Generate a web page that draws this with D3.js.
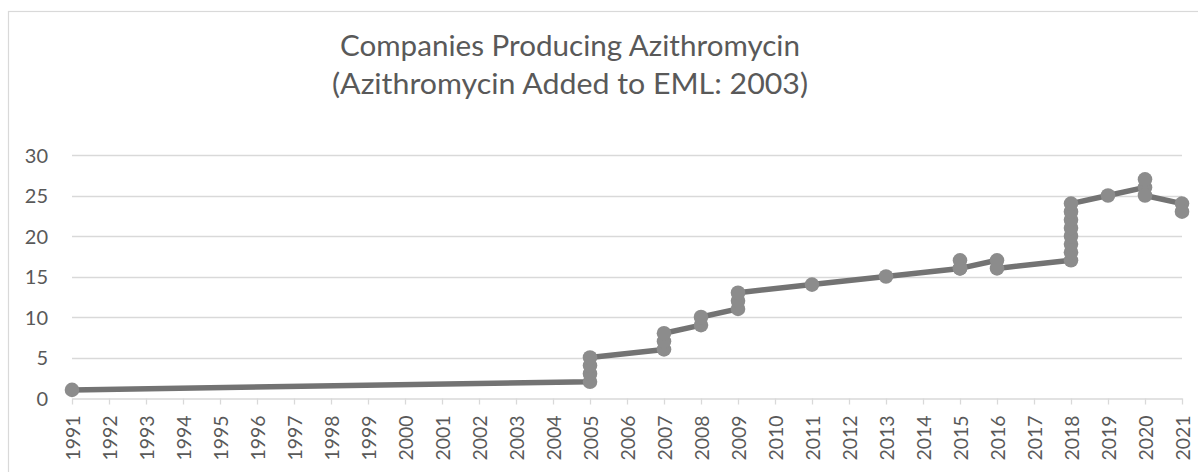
<!DOCTYPE html>
<html>
<head>
<meta charset="utf-8">
<script src="https://cdn.jsdelivr.net/npm/d3@7"></script>
<style>
  html, body { margin: 0; padding: 0; background: #fff; }
  svg { display: block; }
  text { font-family: Lato, "Open Sans", sans-serif; fill: #595959; }
</style>
</head>
<body>
<svg id="chart" width="1198" height="472"></svg>
<script>
// ---- data ----
const titleLines = ["Companies Producing Azithromycin", "(Azithromycin Added to EML: 2003)"];
const years = [1991,1992,1993,1994,1995,1996,1997,1998,1999,2000,2001,2002,2003,2004,2005,2006,2007,2008,2009,2010,2011,2012,2013,2014,2015,2016,2017,2018,2019,2020,2021];
const yTicks = [0, 5, 10, 15, 20, 25, 30];
const pointYears  = [1991, 2005,2005,2005,2005, 2007,2007,2007, 2008,2008, 2009,2009,2009, 2011, 2013, 2015,2015,2015, 2016,2016, 2018,2018,2018,2018,2018,2018,2018,2018, 2019, 2020,2020,2020, 2021,2021];
const pointCounts = [1,    2,3,4,5,             6,7,8,          9,10,      11,12,13,          14,   15,   16,17,16,        17,16,     17,18,19,20,21,22,23,24,                   25,   26,27,25,        24,23];

// ---- layout ----
const svg = d3.select("#chart");
const W = 1198, H = 472;
const plot = { left: 72, right: 1182, top: 155, bottom: 398 };

// outer border
svg.append("rect")
  .attr("x", 8.5).attr("y", 11.5)
  .attr("width", W + 10).attr("height", H + 10)
  .attr("fill", "none").attr("stroke", "#d9d9d9").attr("stroke-width", 1.2);

const x = d3.scaleLinear().domain([years[0], years[years.length - 1]]).range([plot.left, plot.right]);
const y = d3.scaleLinear().domain([0, 30]).range([plot.bottom, plot.top]);

// title
const titleX = 570, titleBase = [56, 94], titleWidths = [460, 476];
titleLines.forEach((t, i) =>
  svg.append("text").attr("x", titleX).attr("y", titleBase[i])
    .attr("text-anchor", "middle").style("font-size", "29px")
    .attr("textLength", titleWidths[i]).attr("lengthAdjust", "spacingAndGlyphs")
    .text(t));

// gridlines (skip 0 — axis drawn separately)
const grid = svg.append("g");
grid.selectAll("line").data(yTicks.filter(d => d !== 0)).join("line")
  .attr("x1", plot.left).attr("x2", plot.right)
  .attr("y1", d => Math.round(y(d)) + 0.5).attr("y2", d => Math.round(y(d)) + 0.5)
  .attr("stroke", "#d9d9d9").attr("stroke-width", 1.3);

// y axis labels
const yAxis = svg.append("g").attr("transform", `translate(${plot.left},0)`)
  .call(d3.axisLeft(y).tickValues(yTicks).tickSize(0).tickPadding(24));
yAxis.select(".domain").remove();
yAxis.selectAll("text").style("font-size", "20px").attr("fill", "#595959")
  .style("font-family", "Lato, 'Open Sans', sans-serif").attr("dy", "0.36em");

// x axis
const xAxis = svg.append("g").attr("transform", `translate(0,${Math.round(plot.bottom) + 0.5})`)
  .call(d3.axisBottom(x).tickValues(years).tickFormat(d3.format("d")).tickSize(6).tickSizeOuter(0));
xAxis.select(".domain").attr("stroke", "#d9d9d9").attr("stroke-width", 1.3);
xAxis.selectAll(".tick line").attr("stroke", "#d9d9d9").attr("stroke-width", 1.3);
xAxis.selectAll("text")
  .style("font-size", "20px").attr("fill", "#595959")
  .style("font-family", "Lato, 'Open Sans', sans-serif")
  .attr("text-anchor", "end")
  .attr("textLength", 45).attr("lengthAdjust", "spacingAndGlyphs")
  .attr("transform", "rotate(-90)")
  .attr("x", -17).attr("y", 0).attr("dy", "0.36em");

// line
const pts = pointYears.map((yr, i) => ({ yr, v: pointCounts[i] }));
svg.append("path").datum(pts)
  .attr("fill", "none").attr("stroke", "#737373").attr("stroke-width", 5.5)
  .attr("stroke-linejoin", "round").attr("stroke-linecap", "round")
  .attr("d", d3.line().x(d => x(d.yr)).y(d => y(d.v)));

// markers
svg.append("g").selectAll("circle").data(pts).join("circle")
  .attr("cx", d => x(d.yr)).attr("cy", d => y(d.v)).attr("r", 7.3)
  .attr("fill", "#8c8c8c");
</script>
</body>
</html>
